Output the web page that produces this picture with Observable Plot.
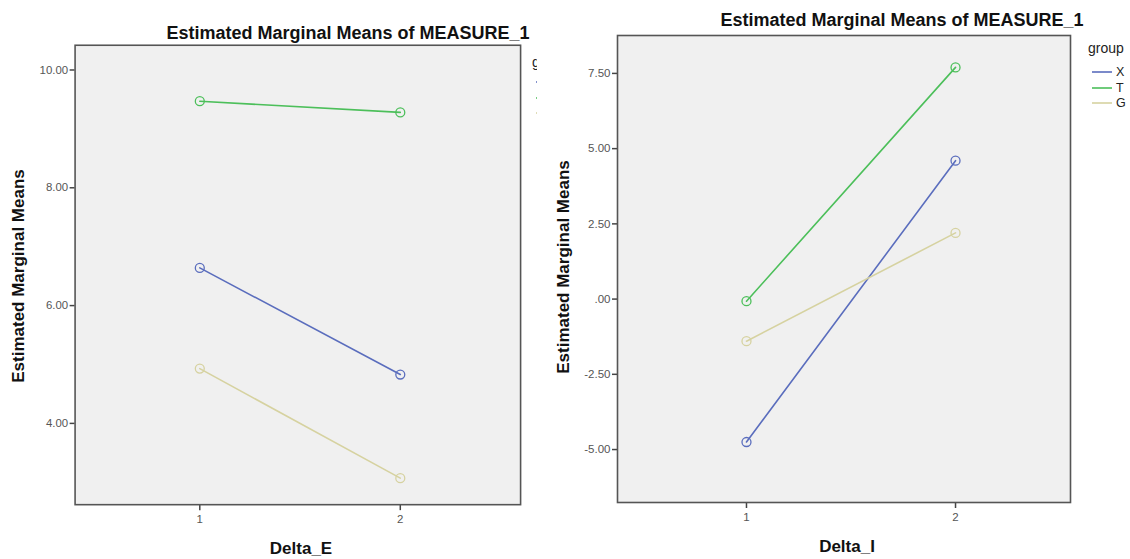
<!DOCTYPE html>
<html>
<head>
<meta charset="utf-8">
<script src="https://cdn.jsdelivr.net/npm/d3@7"></script>
<script src="https://cdn.jsdelivr.net/npm/@observablehq/plot@0.6"></script>
<style>
  html, body { margin: 0; padding: 0; background: #fff; }
  #root { position: relative; width: 1130px; height: 559px; overflow: hidden; font-family: "Liberation Sans", Arial, sans-serif; }
  .panel { position: absolute; top: 0; height: 559px; overflow: hidden; }
  .title { position: absolute; font-weight: bold; font-size: 18px; color: #111; white-space: nowrap; transform: translateX(-50%); line-height: 1; }
  .xlab { position: absolute; font-weight: bold; font-size: 17px; color: #111; white-space: nowrap; transform: translateX(-50%); line-height: 1; }
  .ylab { position: absolute; font-weight: bold; font-size: 17px; color: #111; white-space: nowrap; transform: translate(-50%, -50%) rotate(-90deg); line-height: 1; }
  .leg { position: absolute; font-size: 14px; color: #222; white-space: nowrap; line-height: 1; }
  .legrow { position: absolute; font-size: 12.5px; color: #222; white-space: nowrap; display: flex; align-items: center; line-height: 1; }
  .legrow svg { position: static; margin-right: 4px; }
  .panel > svg { position: absolute; top: 0; left: 0; }
</style>
</head>
<body>
<div id="root"></div>
<script>
// ---- data ----
const deltaLevels = [1, 2];
const groups = ["X", "T", "G"];
const groupColors = ["#5a6dbd", "#4cbf5a", "#d6d2a0"];
// Left chart: Delta_E
const leftX = [6.64, 4.83];
const leftT = [9.47, 9.28];
const leftG = [4.93, 3.07];
const leftTicks = [4, 6, 8, 10];
// Right chart: Delta_I
const rightX = [-4.75, 4.60];
const rightT = [-0.07, 7.70];
const rightG = [-1.40, 2.20];
const rightTicks = [-5, -2.5, 0, 2.5, 5, 7.5];
const titleText = "Estimated Marginal Means of MEASURE_1";
const yLabel = "Estimated Marginal Means";
const legendTitle = "group";

function rows(series) {
  const out = [];
  groups.forEach((g, gi) => deltaLevels.forEach((d, di) => out.push({group: g, delta: d, value: series[gi][di]})));
  return out;
}

function makePlot(opts) {
  const data = rows(opts.series);
  return Plot.plot({
    width: opts.width, height: 559,
    marginLeft: opts.ml, marginRight: opts.mr, marginTop: opts.mt, marginBottom: opts.mb,
    style: {background: "transparent", fontFamily: "Liberation Sans, Arial, sans-serif", fontSize: "11.5px", color: "#444"},
    x: {domain: opts.xdomain, label: null},
    y: {domain: opts.ydomain, label: null},
    color: {domain: groups, range: groupColors},
    marks: [
      Plot.frame({fill: "#f0f0f0", stroke: null}),
      Plot.axisY({ticks: opts.yticks, tickFormat: opts.yfmt, tickSize: 5, tickPadding: 2, stroke: "#444", strokeWidth: 1.5, fill: "#555", label: null}),
      Plot.axisX({ticks: deltaLevels, tickFormat: d => String(d), tickSize: 6, tickPadding: 4, stroke: "#444", strokeWidth: 1.5, fill: "#555", label: null}),
      Plot.line(data, {x: "delta", y: "value", z: "group", stroke: "group", strokeWidth: 1.6}),
      Plot.dot(data, {x: "delta", y: "value", stroke: "group", r: 4.5, strokeWidth: 1.3, fill: "none"}),
      Plot.frame({stroke: "#555", strokeWidth: 1.6})
    ]
  });
}

const root = document.getElementById("root");

function addEl(parent, cls, text, css) {
  const el = document.createElement("div");
  el.className = cls;
  if (text != null) el.textContent = text;
  Object.assign(el.style, css);
  parent.appendChild(el);
  return el;
}

function swatch(color) {
  const s = d3.create("svg").attr("width", 20).attr("height", 4);
  s.append("line").attr("x1", 0).attr("x2", 20).attr("y1", 2).attr("y2", 2)
    .attr("stroke", color).attr("stroke-width", 1.6);
  return s.node();
}

function addLegend(parent, x, y, withLabels) {
  addEl(parent, "leg", legendTitle, {left: x + "px", top: y + "px"});
  groups.forEach((g, i) => {
    const r = addEl(parent, "legrow", null, {left: (x + 4) + "px", top: (y + 25 + i * 15.5) + "px"});
    r.appendChild(swatch(groupColors[i]));
    if (withLabels) r.appendChild(document.createTextNode(g));
  });
}

// Left panel
const lp = addEl(root, "panel", null, {left: "0px", width: "537px"});
lp.appendChild(makePlot({
  width: 540, ml: 75, mr: 17, mt: 45, mb: 52,
  series: [leftX, leftT, leftG],
  xdomain: [0.378, 2.6], ydomain: [2.62, 10.42],
  yticks: leftTicks, yfmt: d => d.toFixed(2)
}));
addEl(lp, "title", titleText, {left: "348px", top: "24px"});
addEl(lp, "ylab", yLabel, {left: "18px", top: "276px"});
addEl(lp, "xlab", "Delta_E", {left: "301px", top: "540px"});
addLegend(lp, 532, 55, false);

// Right panel
const rp = addEl(root, "panel", null, {left: "540px", width: "590px"});
rp.appendChild(makePlot({
  width: 590, ml: 77, mr: 60, mt: 35, mb: 57,
  series: [rightX, rightT, rightG],
  xdomain: [0.383, 2.55], ydomain: [-6.76, 8.76],
  yticks: rightTicks, yfmt: d => d === 0 ? ".00" : d.toFixed(2)
}));
addEl(rp, "title", titleText, {left: "362px", top: "11px"});
addEl(rp, "ylab", yLabel, {left: "23px", top: "267px"});
addEl(rp, "xlab", "Delta_I", {left: "307px", top: "538px"});
addLegend(rp, 548, 41, true);
</script>
</body>
</html>
